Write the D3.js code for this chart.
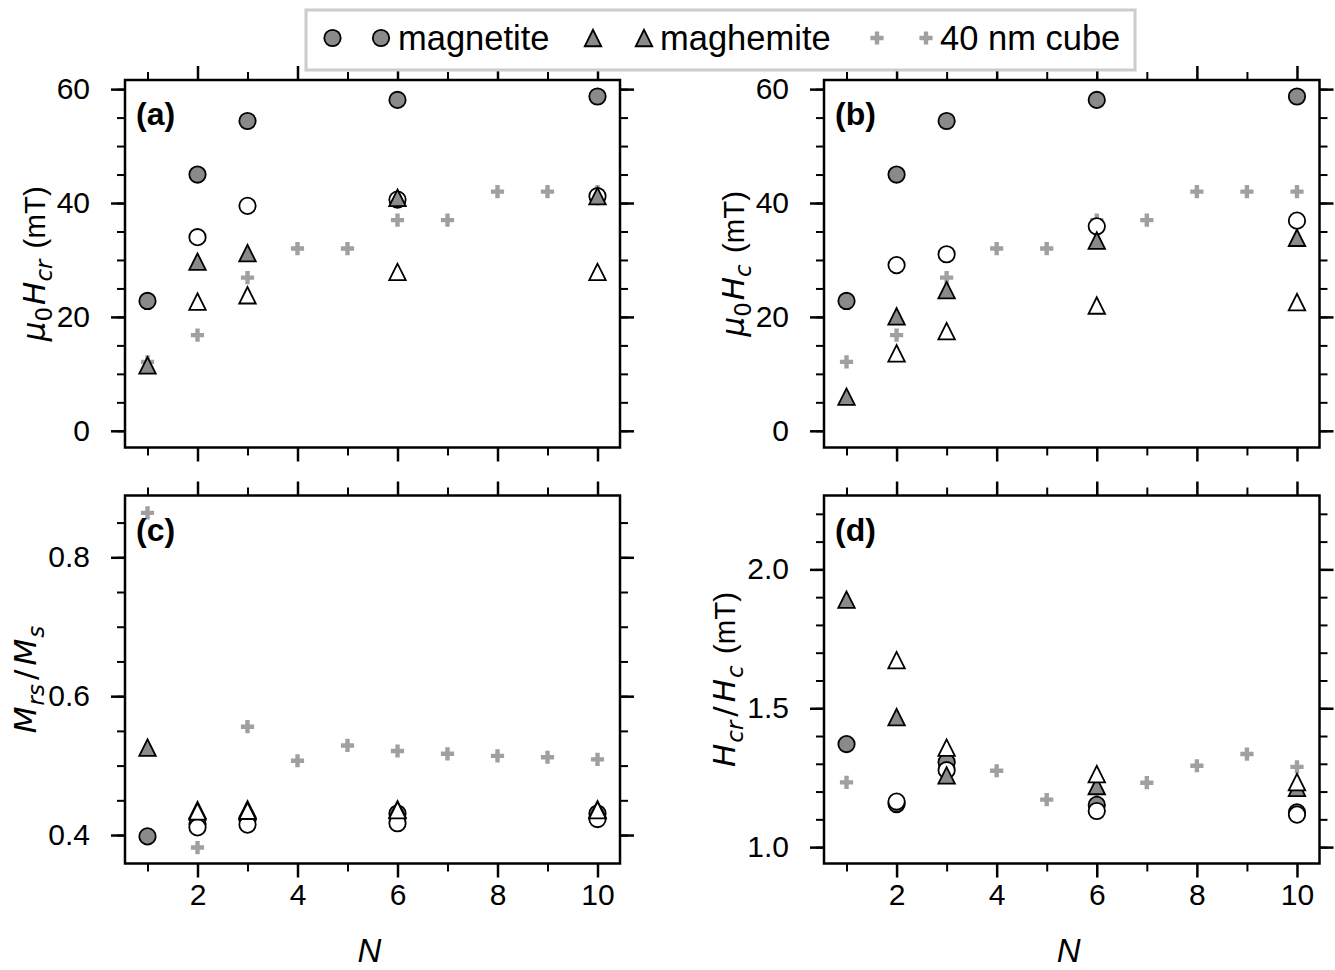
<!DOCTYPE html>
<html><head><meta charset="utf-8">
<script src="https://cdn.jsdelivr.net/npm/d3@7"></script>
<style>body{margin:0;background:#fff}svg{display:block}</style>
</head><body><svg id="c" width="1335" height="970"></svg>
<script>
// ---------------- data ----------------
const N_cube = [1,2,3,4,5,6,7,8,9,10];
const N_filled = [1,2,3,6,10];
const N_open = [2,3,6,10];

// (a) mu0 Hcr (mT)
const hcrMagnetiteFilled = [22.8, 45.0, 54.4, 58.1, 58.7];
const hcrMagnetiteOpen   = [34.0, 39.5, 40.6, 41.2];
const hcrMaghemiteFilled = [11.5, 29.7, 31.2, 40.9, 41.2];
const hcrMaghemiteOpen   = [22.7, 23.8, 27.9, 27.9];
const hcrCube = [12.1, 16.8, 26.9, 32.0, 32.0, 37.0, 37.0, 42.0, 42.0, 42.0];

// (b) mu0 Hc (mT)
const hcMagnetiteFilled = [22.8, 45.0, 54.4, 58.1, 58.7];
const hcMagnetiteOpen   = [29.1, 31.0, 35.9, 36.9];
const hcMaghemiteFilled = [6.0, 20.1, 24.7, 33.4, 33.9];
const hcMaghemiteOpen   = [13.6, 17.5, 22.0, 22.6];
const hcCube = [12.1, 16.8, 26.9, 32.0, 32.0, 37.0, 37.0, 42.0, 42.0, 42.0];

// (c) Mrs/Ms
const mrsMagnetiteFilled = [0.398, 0.416, 0.422, 0.431, 0.431];
const mrsMagnetiteOpen   = [0.411, 0.415, 0.417, 0.423];
const mrsMaghemiteFilled = [0.526, 0.436, 0.437, 0.437, 0.437];
const mrsMaghemiteOpen   = [0.434, 0.435, 0.436, 0.436];
const mrsCube = [0.864, 0.382, 0.556, 0.507, 0.529, 0.521, 0.517, 0.514, 0.512, 0.509];

// (d) Hcr/Hc
const ratioMagnetiteFilled = [1.371, 1.155, 1.306, 1.152, 1.125];
const ratioMagnetiteOpen   = [1.164, 1.277, 1.130, 1.117];
const ratioMaghemiteFilled = [1.891, 1.468, 1.258, 1.220, 1.213];
const ratioMaghemiteOpen   = [1.673, 1.358, 1.263, 1.234];
const ratioCube = [1.233, 1.16, 1.29, 1.275, 1.171, 1.20, 1.232, 1.293, 1.335, 1.289];

// ticks
const xMajorTicks = [2,4,6,8,10];
const xMinorTicks = [1,3,5,7,9];
const yTicksField = [0,20,40,60];
const yMinorField = [0,5,10,15,20,25,30,35,40,45,50,55,60];
const yTicksMrs = [0.4,0.6,0.8];
const yMinorMrs = [0.4,0.45,0.5,0.55,0.6,0.65,0.7,0.75,0.8,0.85];
const yTicksRatio = [1.0,1.5,2.0];
const yMinorRatio = [1.0,1.1,1.2,1.3,1.4,1.5,1.6,1.7,1.8,1.9,2.0,2.1,2.2];

const legendLabels = ["magnetite","maghemite","40 nm cube"];

// ---------------- style / layout ----------------
const FONT = "'Liberation Sans', Arial, Helvetica, sans-serif";
const MATH = "'DejaVu Sans', 'Liberation Sans', sans-serif";
const GRAY = "#8a8a8a", CROSS = "#a0a0a0";
const TICKFS = 30, LABFS = 31;
const cols = {left:[125,620], right:[824,1319.5]};
const rows = {top:[447.5,80], bottom:[863.5,495.5]};
const xDomain = [0.55, 10.45];

// g: extra gap (px) before the segment
const labA = [{t:"μ",i:1},{t:"0",s:1},{t:"H",i:1,g:2},{t:"cr",i:1,s:1},{t:" (mT)",r:1,g:3}];
const labB = [{t:"μ",i:1},{t:"0",s:1},{t:"H",i:1,g:2},{t:"c",i:1,s:1},{t:" (mT)",r:1,g:3}];
const labC = [{t:"M",i:1},{t:"rs",i:1,s:1,g:1},{t:"/",g:4},{t:"M",i:1,g:4},{t:"s",i:1,s:1,g:1}];
const labD = [{t:"H",i:1},{t:"cr",i:1,s:1,g:1},{t:"/",g:4},{t:"H",i:1,g:4},{t:"c",i:1,s:1,g:1},{t:" (mT)",r:1,g:3}];

const panels = [
  {tag:"(a)", col:"left", row:"top", yDomain:[-2.93,61.6], yMajor:yTicksField, yMinor:yMinorField, fmt:d3.format("d"), label:labA,
   mf:hcrMagnetiteFilled, mo:hcrMagnetiteOpen, gf:hcrMaghemiteFilled, go:hcrMaghemiteOpen, cube:hcrCube},
  {tag:"(b)", col:"right", row:"top", yDomain:[-2.93,61.6], yMajor:yTicksField, yMinor:yMinorField, fmt:d3.format("d"), label:labB,
   mf:hcMagnetiteFilled, mo:hcMagnetiteOpen, gf:hcMaghemiteFilled, go:hcMaghemiteOpen, cube:hcCube},
  {tag:"(c)", col:"left", row:"bottom", yDomain:[0.359,0.889], yMajor:yTicksMrs, yMinor:yMinorMrs, fmt:d3.format(".1f"), label:labC,
   mf:mrsMagnetiteFilled, mo:mrsMagnetiteOpen, gf:mrsMaghemiteFilled, go:mrsMaghemiteOpen, cube:mrsCube},
  {tag:"(d)", col:"right", row:"bottom", yDomain:[0.941,2.266], yMajor:yTicksRatio, yMinor:yMinorRatio, fmt:d3.format(".1f"), label:labD,
   mf:ratioMagnetiteFilled, mo:ratioMagnetiteOpen, gf:ratioMaghemiteFilled, go:ratioMaghemiteOpen, cube:ratioCube}
];

const svg = d3.select("#c");

const H = 8.25;
const triPath = `M0,${-H}L${-H},${H}L${H},${H}Z`;
const crossPath = (a=6.6, b=2.2) => `M${-b},${-a}H${b}V${-b}H${a}V${b}H${b}V${a}H${-b}V${b}H${-a}V${-b}H${-b}Z`;

function styleAxis(g, width){
  g.select(".domain").remove();
  g.selectAll(".tick line").attr("stroke","#000").attr("stroke-width",width);
  g.attr("font-family",FONT).attr("font-size",TICKFS);
  g.selectAll(".tick text").attr("fill","#000");
}

function drawLabel(g, segs, size){
  const t = g.append("text").attr("font-family",MATH).attr("font-size",size).attr("fill","#000");
  let inSub = false;
  segs.forEach(s=>{
    const ts = t.append("tspan").text(s.t);
    if (s.i) ts.attr("font-style","italic");
    if (s.g) ts.attr("dx", s.g);
    if (s.r) ts.attr("font-family",FONT).attr("font-size",size*0.95);
    if (s.s){ ts.attr("font-size", size*0.74); if(!inSub){ ts.attr("dy", size*0.24); inSub=true; } }
    else if (inSub){ ts.attr("dy", -size*0.24); inSub=false; }
  });
  return t;
}

panels.forEach(p=>{
  const xr = cols[p.col], yr = rows[p.row];
  const x = d3.scaleLinear().domain(xDomain).range(xr);
  const y = d3.scaleLinear().domain(p.yDomain).range(yr);
  const g = svg.append("g");
  const isBottom = p.row === "bottom";

  const gb = g.append("g").attr("transform",`translate(0,${yr[0]})`);
  gb.append("g").call(d3.axisBottom(x).tickValues(xMinorTicks).tickSize(8).tickSizeOuter(0).tickFormat(()=>"")).call(s=>styleAxis(s,2));
  gb.append("g").call(d3.axisBottom(x).tickValues(xMajorTicks).tickSize(14).tickSizeOuter(0).tickPadding(6)
      .tickFormat(isBottom ? d3.format("d") : ()=>"")).call(s=>styleAxis(s,2.5));
  const gt = g.append("g").attr("transform",`translate(0,${yr[1]})`);
  gt.append("g").call(d3.axisTop(x).tickValues(xMinorTicks).tickSize(8).tickSizeOuter(0).tickFormat(()=>"")).call(s=>styleAxis(s,2));
  gt.append("g").call(d3.axisTop(x).tickValues(xMajorTicks).tickSize(14).tickSizeOuter(0).tickFormat(()=>"")).call(s=>styleAxis(s,2.5));
  const gl = g.append("g").attr("transform",`translate(${xr[0]},0)`);
  gl.append("g").call(d3.axisLeft(y).tickValues(p.yMinor).tickSize(8).tickSizeOuter(0).tickFormat(()=>"")).call(s=>styleAxis(s,2));
  const glMaj = gl.append("g").call(d3.axisLeft(y).tickValues(p.yMajor).tickSize(14).tickSizeOuter(0).tickPadding(21).tickFormat(p.fmt)).call(s=>styleAxis(s,2.5));
  const gr = g.append("g").attr("transform",`translate(${xr[1]},0)`);
  gr.append("g").call(d3.axisRight(y).tickValues(p.yMinor).tickSize(8).tickSizeOuter(0).tickFormat(()=>"")).call(s=>styleAxis(s,2));
  gr.append("g").call(d3.axisRight(y).tickValues(p.yMajor).tickSize(14).tickSizeOuter(0).tickFormat(()=>"")).call(s=>styleAxis(s,2.5));

  const m = g.append("g");
  m.selectAll("path.cube").data(N_cube.map((n,i)=>[n,p.cube[i]])).join("path").attr("class","cube")
    .attr("d",crossPath()).attr("fill",CROSS).attr("transform",d=>`translate(${x(d[0])},${y(d[1])})`);
  m.selectAll("circle.mf").data(N_filled.map((n,i)=>[n,p.mf[i]])).join("circle").attr("class","mf")
    .attr("cx",d=>x(d[0])).attr("cy",d=>y(d[1])).attr("r",8.2).attr("fill",GRAY).attr("stroke","#000").attr("stroke-width",1.8);
  m.selectAll("circle.mo").data(N_open.map((n,i)=>[n,p.mo[i]])).join("circle").attr("class","mo")
    .attr("cx",d=>x(d[0])).attr("cy",d=>y(d[1])).attr("r",8.2).attr("fill","#fff").attr("stroke","#000").attr("stroke-width",1.8);
  m.selectAll("path.gf").data(N_filled.map((n,i)=>[n,p.gf[i]])).join("path").attr("class","gf")
    .attr("d",triPath).attr("fill",GRAY).attr("stroke","#000").attr("stroke-width",1.8).attr("stroke-linejoin","miter")
    .attr("transform",d=>`translate(${x(d[0])},${y(d[1])})`);
  m.selectAll("path.go").data(N_open.map((n,i)=>[n,p.go[i]])).join("path").attr("class","go")
    .attr("d",triPath).attr("fill","#fff").attr("stroke","#000").attr("stroke-width",1.8).attr("stroke-linejoin","miter")
    .attr("transform",d=>`translate(${x(d[0])},${y(d[1])})`);

  g.append("rect").attr("x",xr[0]).attr("y",yr[1]).attr("width",xr[1]-xr[0]).attr("height",yr[0]-yr[1])
    .attr("fill","none").attr("stroke","#000").attr("stroke-width",2.5);

  g.append("text").attr("x",xr[0]+11).attr("y",yr[1]+45).attr("font-family",FONT).attr("font-size",32)
    .attr("font-weight","bold").text(p.tag);

  // y label placed just left of the tick labels
  let minX = 0;
  glMaj.selectAll(".tick text").each(function(){ const b=this.getBBox(); minX=Math.min(minX,b.x); });
  const lx = xr[0] + minX - 3 - LABFS*0.24 - 1.5, ly = (yr[0]+yr[1])/2;
  const lg = g.append("g").attr("transform",`translate(${lx},${ly}) rotate(-90)`);
  drawLabel(lg, p.label, LABFS).attr("text-anchor","middle");

  if (isBottom){
    g.append("text").attr("x",(xr[0]+xr[1])/2 - 3).attr("y",962).attr("text-anchor","middle")
      .attr("font-family",FONT).attr("font-size",33).attr("font-style","italic").text("N");
  }
});

// legend
const lgd = svg.append("g");
lgd.append("rect").attr("x",306).attr("y",10).attr("width",829).attr("height",60)
  .attr("fill","#fff").attr("stroke","#cccccc").attr("stroke-width",3);
const legY = 38;
[[332.5,381],[593,644],[877,926]].forEach((xs,k)=>{
  xs.forEach(xx=>{
    if (k===0) lgd.append("circle").attr("cx",xx).attr("cy",legY).attr("r",8.2).attr("fill",GRAY).attr("stroke","#000").attr("stroke-width",1.8);
    else if (k===1) lgd.append("path").attr("d",triPath).attr("fill",GRAY).attr("stroke","#000").attr("stroke-width",1.8).attr("transform",`translate(${xx},${legY})`);
    else lgd.append("path").attr("d",crossPath()).attr("fill",CROSS).attr("transform",`translate(${xx},${legY})`);
  });
});
[398, 660, 940].forEach((tx,k)=>{
  lgd.append("text").attr("x",tx).attr("y",50).attr("font-family",FONT).attr("font-size",34.5).attr("fill","#000").text(legendLabels[k]);
});
</script></body></html>
